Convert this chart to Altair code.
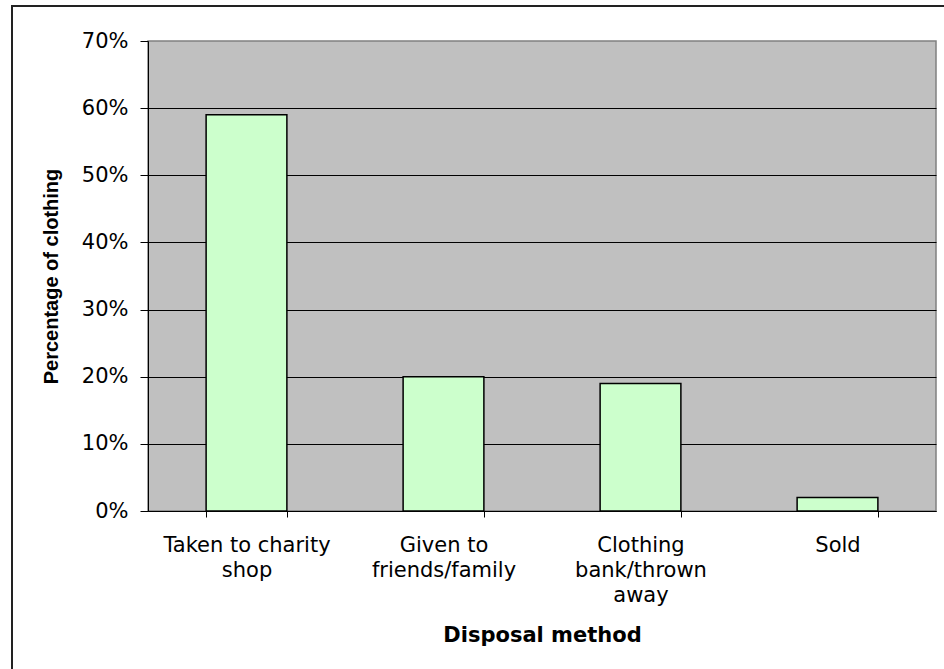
import altair as alt
import pandas as pd

# Disposal methods (line breaks mark where the axis labels wrap)
categories = [
    "Taken to charity\nshop",
    "Given to\nfriends/family",
    "Clothing\nbank/thrown\naway",
    "Sold",
]
shares = [0.59, 0.20, 0.19, 0.02]
y_ticks = [0.0, 0.1, 0.2, 0.3, 0.4, 0.5, 0.6, 0.7]

df = pd.DataFrame({"method": categories, "share": shares})

PLOT_W, PLOT_H = 788, 470
PAD = {"left": 148, "top": 41, "right": 8, "bottom": 158}

bars = (
    alt.Chart(df)
    .mark_bar(fill="#CCFFCC", stroke="#000000", strokeWidth=1.5)
    .encode(
        x=alt.X(
            "method:N",
            sort=None,
            scale=alt.Scale(paddingInner=0.59, paddingOuter=0.295),
            axis=alt.Axis(
                title="Disposal method",
                titleFont="DejaVu Sans",
                titleFontSize=21,
                titleFontWeight="bold",
                titleColor="#000000",
                titleBaseline="alphabetic",
                titleY=130,
                labelExpr="split(datum.label, '\\n')",
                labelFont="DejaVu Sans",
                labelFontSize=21,
                labelColor="#000000",
                labelLineHeight=25,
                labelAngle=0,
                labelPadding=17,
                labelLimit=400,
                tickBand="extent",
                tickSize=6,
                tickColor="#000000",
                domainColor="#000000",
                domainWidth=1,
                grid=False,
            ),
        ),
        y=alt.Y(
            "share:Q",
            scale=alt.Scale(domain=[0, 0.7], nice=False, zero=True),
            axis=alt.Axis(
                title="Percentage of clothing",
                titleFont="Liberation Sans",
                titleFontSize=20,
                titleFontWeight="bold",
                titleColor="#000000",
                titleBaseline="alphabetic",
                titleX=-91,
                values=y_ticks,
                format=".0%",
                labelFont="DejaVu Sans",
                labelFontSize=21,
                labelColor="#000000",
                labelPadding=12,
                tickSize=8,
                tickColor="#000000",
                domainColor="#000000",
                domainWidth=1,
                grid=True,
                gridColor="#000000",
                gridWidth=1,
                gridOpacity={"condition": {"test": "datum.value >= 0.7", "value": 0}, "value": 1},
            ),
        ),
    )
)

# Outer chart frame: left and top edges
frame_df = pd.DataFrame({"k": [0]})
frame_left = (
    alt.Chart(frame_df)
    .mark_rule(color="#222222", strokeWidth=2)
    .encode(x=alt.value(-136), y=alt.value(-35), y2=alt.value(PLOT_H + 200))
)
frame_top = (
    alt.Chart(frame_df)
    .mark_rule(color="#222222", strokeWidth=2)
    .encode(x=alt.value(-137), x2=alt.value(PLOT_W + 100), y=alt.value(-35))
)

chart = (
    alt.layer(bars, frame_left, frame_top)
    .properties(
        width=PLOT_W,
        height=PLOT_H,
        padding=PAD,
        autosize=alt.AutoSizeParams(type="none"),
        background="#FFFFFF",
    )
    .configure_view(fill="#C0C0C0", stroke="#808080", strokeWidth=1.5)
)

chart.save("out.html", embed_options={"renderer": "svg", "actions": False})
